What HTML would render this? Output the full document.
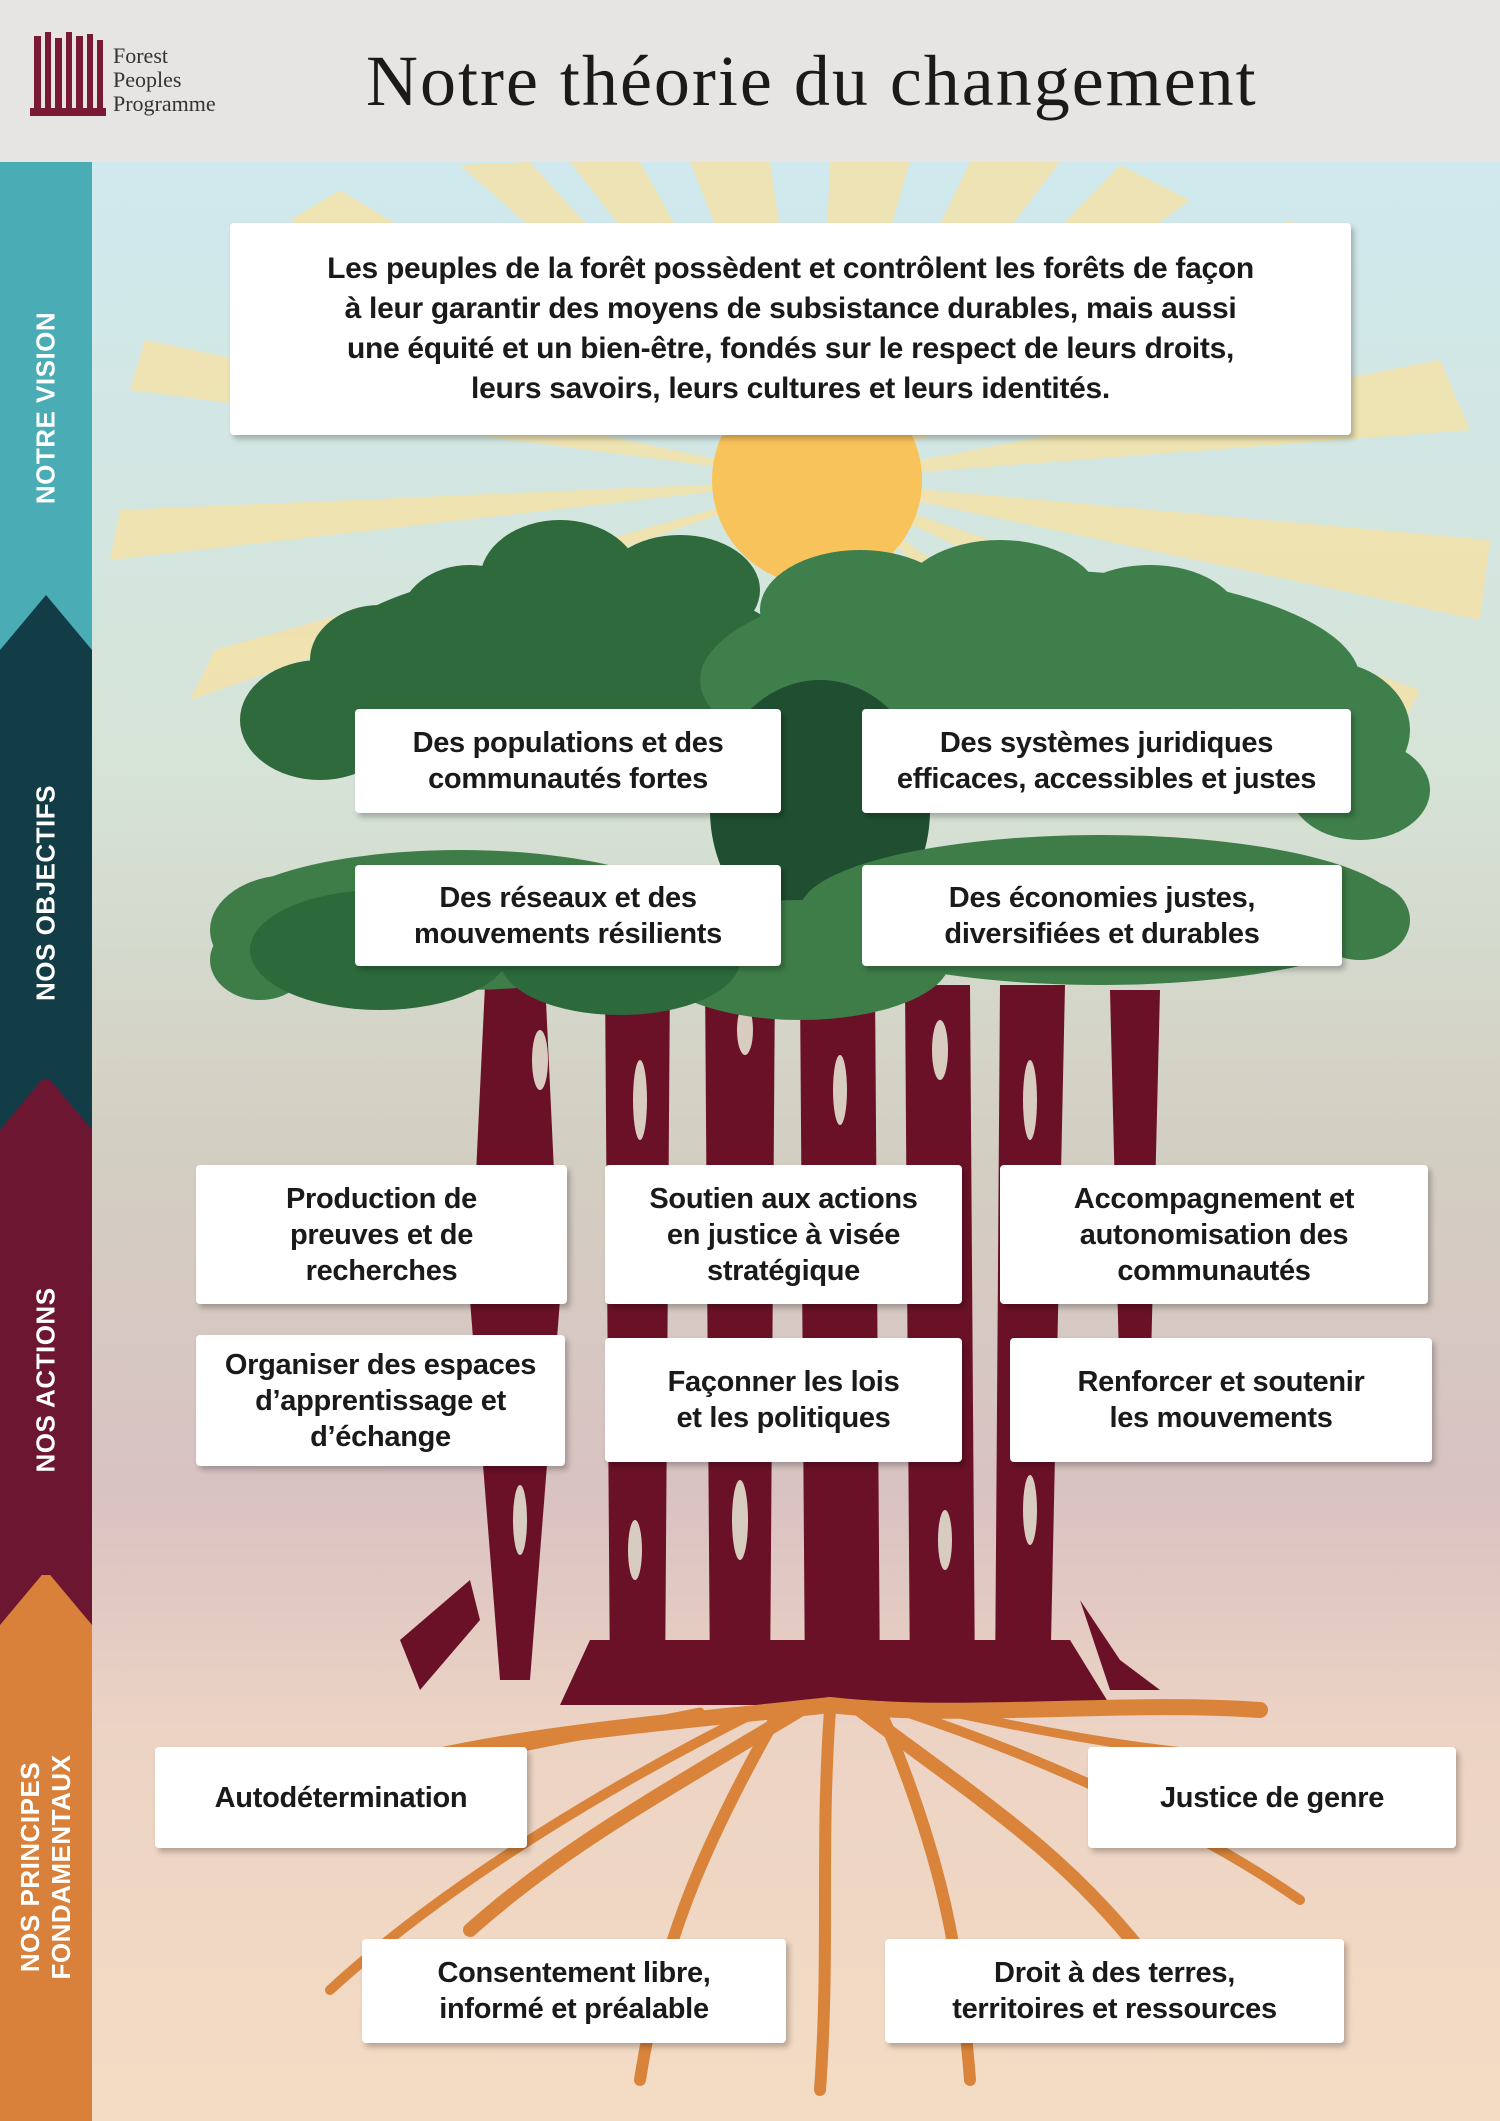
<!DOCTYPE html>
<html><head><meta charset="utf-8"><style>
html,body{margin:0;padding:0}
body{width:1500px;height:2121px;position:relative;overflow:hidden;font-family:"Liberation Sans",sans-serif}
.box{position:absolute;background:#fff;display:flex;align-items:center;justify-content:center;text-align:center;font-weight:bold;color:#1a1a1a;font-size:29px;line-height:36px;letter-spacing:-0.3px;box-shadow:3px 4px 6px rgba(0,0,0,.25);border-radius:4px}
.side{position:absolute;left:0;width:92px}
.lab{position:absolute;left:46px;width:0;height:0}
.lab span{position:absolute;left:0;top:0;transform:translate(-50%,-50%) rotate(-90deg);white-space:nowrap;color:#fff;font-weight:bold;font-size:26px;text-align:center;line-height:31px;letter-spacing:.5px}
</style></head><body>
<svg width="1500" height="2121" style="position:absolute;left:0;top:0" xmlns="http://www.w3.org/2000/svg">
<defs>
<linearGradient id="bg" x1="0" y1="0" x2="0" y2="1">
<stop offset="0" stop-color="#cfe9ee"/><stop offset="0.3" stop-color="#d6e4d8"/><stop offset="0.5" stop-color="#d3cfc2"/><stop offset="0.68" stop-color="#d9c2c2"/><stop offset="0.8" stop-color="#ecd3c4"/><stop offset="1" stop-color="#f4dcc4"/>
</linearGradient>
</defs>
<rect x="0" y="0" width="1500" height="162" fill="#e7e5e3"/>
<rect x="92" y="162" width="1408" height="1959" fill="url(#bg)"/>
<g fill="#f8e2a2" opacity="0.75">
<polygon points="817,480 690,162 770,162"/><polygon points="817,480 830,162 910,162"/><polygon points="817,480 970,162 1060,162"/>
<polygon points="817,480 570,162 640,162"/><polygon points="817,480 1120,165 1190,200"/><polygon points="817,480 1290,220 1350,270"/>
<polygon points="817,480 1440,360 1470,430"/><polygon points="817,480 1490,540 1480,620"/><polygon points="817,480 1420,690 1390,750"/>
<polygon points="817,480 460,165 530,162"/><polygon points="817,480 290,220 340,190"/><polygon points="817,480 130,390 145,340"/>
<polygon points="817,480 110,560 120,510"/><polygon points="817,480 190,700 215,650"/><polygon points="817,480 1250,780 1210,810"/>
</g>
<circle cx="817" cy="480" r="105" fill="#f9c35b"/>
<!-- trunks -->
<g fill="#6a1127">
<path d="M485,985 L545,980 L560,1300 L530,1680 L500,1680 L470,1300 Z"/>
<path d="M605,975 L670,975 L665,1690 L610,1690 Z"/>
<path d="M705,975 L775,975 L770,1690 L710,1690 Z"/>
<path d="M800,985 L875,985 L880,1690 L805,1690 Z"/>
<path d="M905,985 L970,985 L975,1690 L910,1690 Z"/>
<path d="M1000,985 L1065,985 L1050,1690 L995,1690 Z"/>
<path d="M1110,990 L1160,990 L1150,1400 L1120,1400 Z"/>
<path d="M590,1640 L1070,1640 L1110,1705 L560,1705 Z"/>
<path d="M400,1640 L470,1580 L480,1620 L420,1690 Z"/>
<path d="M1080,1600 L1120,1660 L1160,1690 L1110,1690 Z"/>
</g>
<g fill="#d8cbc0">
<ellipse cx="540" cy="1060" rx="8" ry="30"/><ellipse cx="640" cy="1100" rx="7" ry="40"/><ellipse cx="745" cy="1030" rx="8" ry="25"/><ellipse cx="840" cy="1090" rx="7" ry="35"/><ellipse cx="940" cy="1050" rx="8" ry="30"/><ellipse cx="1030" cy="1100" rx="7" ry="40"/>
<ellipse cx="520" cy="1520" rx="7" ry="35"/><ellipse cx="635" cy="1550" rx="7" ry="30"/><ellipse cx="740" cy="1520" rx="8" ry="40"/><ellipse cx="945" cy="1540" rx="7" ry="30"/><ellipse cx="1030" cy="1510" rx="7" ry="35"/>
</g>
<!-- roots -->
<g stroke="#d9843a" fill="none" stroke-linecap="round">
<path d="M830,1705 C700,1720 550,1730 420,1760" stroke-width="16"/>
<path d="M830,1705 C960,1720 1120,1700 1260,1710" stroke-width="16"/>
<path d="M800,1710 C650,1800 560,1850 470,1930" stroke-width="14"/>
<path d="M860,1710 C980,1800 1060,1850 1140,1950" stroke-width="14"/>
<path d="M780,1710 C700,1850 660,1950 640,2080" stroke-width="12"/>
<path d="M880,1710 C940,1850 960,1950 970,2080" stroke-width="12"/>
<path d="M830,1710 C820,1850 830,1950 820,2090" stroke-width="12"/>
<path d="M760,1710 C620,1780 450,1880 330,1990" stroke-width="10"/>
<path d="M900,1710 C1050,1760 1200,1830 1300,1900" stroke-width="10"/>
<path d="M700,1712 C560,1740 450,1760 320,1790" stroke-width="9"/>
<path d="M950,1712 C1080,1740 1200,1760 1320,1760" stroke-width="9"/>
</g>
<!-- canopy -->
<g fill="#2f6a3c">
<ellipse cx="560" cy="680" rx="250" ry="110"/><ellipse cx="470" cy="620" rx="70" ry="55"/><ellipse cx="560" cy="580" rx="80" ry="60"/><ellipse cx="680" cy="590" rx="80" ry="55"/>
<ellipse cx="320" cy="720" rx="80" ry="60"/><ellipse cx="380" cy="660" rx="70" ry="55"/>
</g>
<g fill="#3f7f4b">
<ellipse cx="1030" cy="680" rx="330" ry="110"/><ellipse cx="860" cy="610" rx="100" ry="60"/><ellipse cx="1000" cy="600" rx="100" ry="60"/><ellipse cx="1150" cy="620" rx="90" ry="55"/>
<ellipse cx="1320" cy="730" rx="90" ry="70"/><ellipse cx="1360" cy="790" rx="70" ry="50"/>
</g>
<g fill="#1f4f30"><ellipse cx="820" cy="810" rx="110" ry="130"/></g>
<g fill="#3e7d48">
<ellipse cx="460" cy="920" rx="240" ry="70"/><ellipse cx="290" cy="930" rx="80" ry="55"/><ellipse cx="260" cy="960" rx="50" ry="40"/>
<ellipse cx="1100" cy="910" rx="300" ry="75"/><ellipse cx="1360" cy="920" rx="50" ry="40"/>
<ellipse cx="800" cy="960" rx="150" ry="60"/>
</g>
<g fill="#2d6a3b"><ellipse cx="380" cy="950" rx="130" ry="60"/><ellipse cx="620" cy="960" rx="120" ry="55"/></g>
<!-- logo -->
<g fill="#7a1a32">
<rect x="34" y="36" width="7" height="80"/><rect x="45" y="32" width="6" height="84"/><rect x="55" y="38" width="7" height="78"/><rect x="66" y="32" width="6" height="84"/><rect x="76" y="36" width="7" height="80"/><rect x="87" y="34" width="6" height="82"/><rect x="97" y="40" width="6" height="76"/>
<rect x="30" y="108" width="76" height="8"/>
</g>
</svg>
<div style="position:absolute;left:113px;top:44px;font-family:'Liberation Serif',serif;font-size:22px;line-height:24px;color:#333">Forest<br>Peoples<br>Programme</div>
<div style="position:absolute;left:366px;top:40px;font-family:'Liberation Serif',serif;font-size:72px;color:#1a1a1a;letter-spacing:2px;white-space:nowrap">Notre théorie du changement</div>

<div class="side" style="top:162px;height:433px;background:#4aacb5"></div>
<div class="side" style="top:595px;height:485px;background:#123c46"></div>
<svg style="position:absolute;left:0;top:595px" width="92" height="60"><polygon points="0,55 46,0 92,55 92,60 0,60" fill="#123c46"/><polygon points="0,60 0,55 46,0 0,0" fill="#4aacb5"/><polygon points="92,60 92,55 46,0 92,0" fill="#4aacb5"/></svg>
<div class="side" style="top:1080px;height:495px;background:#6d1631"></div>
<svg style="position:absolute;left:0;top:1075px" width="92" height="60"><polygon points="0,0 92,0 92,55 46,0 0,55" fill="#123c46"/></svg>
<div class="side" style="top:1575px;height:546px;background:#d9803a"></div>
<svg style="position:absolute;left:0;top:1570px" width="92" height="60"><polygon points="0,0 92,0 92,55 46,0 0,55" fill="#6d1631"/></svg>
<div class="lab" style="top:408px"><span>NOTRE VISION</span></div>
<div class="lab" style="top:893px"><span>NOS OBJECTIFS</span></div>
<div class="lab" style="top:1380px"><span>NOS ACTIONS</span></div>
<div class="lab" style="top:1867px"><span>NOS PRINCIPES<br>FONDAMENTAUX</span></div>

<div class="box" style="left:230px;top:223px;width:1121px;height:212px;font-size:30px;line-height:40px">Les peuples de la forêt possèdent et contrôlent les forêts de façon<br>à leur garantir des moyens de subsistance durables, mais aussi<br>une équité et un bien-être, fondés sur le respect de leurs droits,<br>leurs savoirs, leurs cultures et leurs identités.</div>

<div class="box" style="left:355px;top:709px;width:426px;height:104px">Des populations et des<br>communautés fortes</div>
<div class="box" style="left:862px;top:709px;width:489px;height:104px">Des systèmes juridiques<br>efficaces, accessibles et justes</div>
<div class="box" style="left:355px;top:865px;width:426px;height:101px">Des réseaux et des<br>mouvements résilients</div>
<div class="box" style="left:862px;top:865px;width:480px;height:101px">Des économies justes,<br>diversifiées et durables</div>

<div class="box" style="left:196px;top:1165px;width:371px;height:139px">Production de<br>preuves et de<br>recherches</div>
<div class="box" style="left:605px;top:1165px;width:357px;height:139px">Soutien aux actions<br>en justice à visée<br>stratégique</div>
<div class="box" style="left:1000px;top:1165px;width:428px;height:139px">Accompagnement et<br>autonomisation des<br>communautés</div>
<div class="box" style="left:196px;top:1335px;width:369px;height:131px">Organiser des espaces<br>d’apprentissage et<br>d’échange</div>
<div class="box" style="left:605px;top:1338px;width:357px;height:124px">Façonner les lois<br>et les politiques</div>
<div class="box" style="left:1010px;top:1338px;width:422px;height:124px">Renforcer et soutenir<br>les mouvements</div>

<div class="box" style="left:155px;top:1747px;width:372px;height:101px">Autodétermination</div>
<div class="box" style="left:1088px;top:1747px;width:368px;height:101px">Justice de genre</div>
<div class="box" style="left:362px;top:1939px;width:424px;height:104px">Consentement libre,<br>informé et préalable</div>
<div class="box" style="left:885px;top:1939px;width:459px;height:104px">Droit à des terres,<br>territoires et ressources</div>
</body></html>
